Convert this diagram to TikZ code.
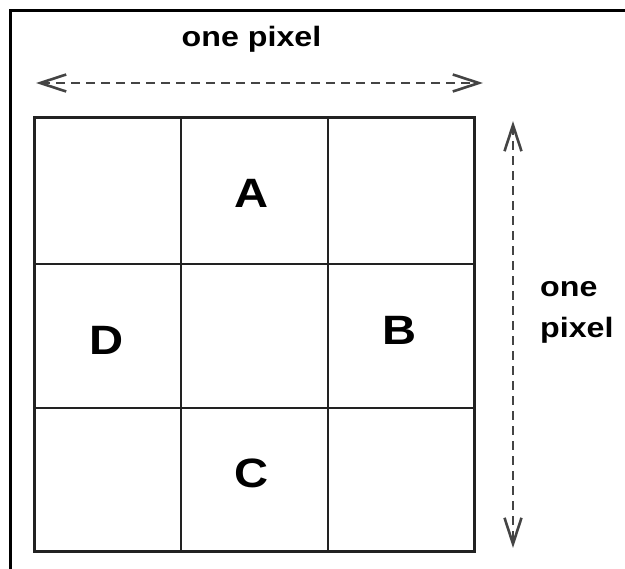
\documentclass[tikz,border=0pt]{standalone}
\usepackage{fontspec}
\setmainfont{Liberation Sans}
\usetikzlibrary{arrows.meta}
\definecolor{gridc}{HTML}{222222}
\definecolor{dashc}{HTML}{444444}
\tikzset{
  frameline/.style={line width=3pt, black},
  outergrid/.style={line width=3pt, draw=gridc},
  innergrid/.style={line width=1.8pt, draw=gridc},
  dimarrow/.style={line width=2.8pt, draw=dashc, dash pattern=on 9pt off 6pt,
    {Straight Barb[length=26pt,width=17pt,line width=2.6pt]}-{Straight Barb[length=26pt,width=17pt,line width=2.6pt]}},
  dimlabel/.style={font=\fontsize{28}{41}\selectfont\bfseries, inner sep=0pt},
  cell/.style={font=\fontsize{41}{46}\selectfont\bfseries, inner sep=0pt}
}
\begin{document}
\begin{tikzpicture}[x=1pt,y=-1pt]
\useasboundingbox (0,0) rectangle (625,569);
% outer frame (left and top)
\draw[frameline] (10,569) -- (10,11) -- (625,11);
% grid
\draw[outergrid] (34,118) rectangle (474,552);
\draw[innergrid] (181,118) -- (181,552);
\draw[innergrid] (328,118) -- (328,552);
\draw[innergrid] (34,264) -- (474,264);
\draw[innergrid] (34,408) -- (474,408);
% cell labels
\node[cell] (A) at (252,193) {\scalebox{1.15}[1]{A}};
\node[cell] (D) at (107,340) {\scalebox{1.15}[1]{D}};
\node[cell] (B) at (400,330) {\scalebox{1.15}[1]{B}};
\node[cell] (C) at (252,473) {\scalebox{1.15}[1]{C}};
% dimension arrows
\coordinate (hl) at (36,83);
\coordinate (hr) at (483,83);
\coordinate (vt) at (513,121);
\coordinate (vb) at (513,548);
\draw[dimarrow] (hl) -- (hr);
\draw[dimarrow] (vt) -- (vb);
\node[dimlabel, anchor=base] (top) at (251.5,47) {\scalebox{1.15}[1]{one pixel}};
\node[dimlabel, anchor=base west, align=left] (right) at (540,338) {\scalebox{1.15}[1]{one}\\\scalebox{1.15}[1]{pixel}};
\end{tikzpicture}
\end{document}
